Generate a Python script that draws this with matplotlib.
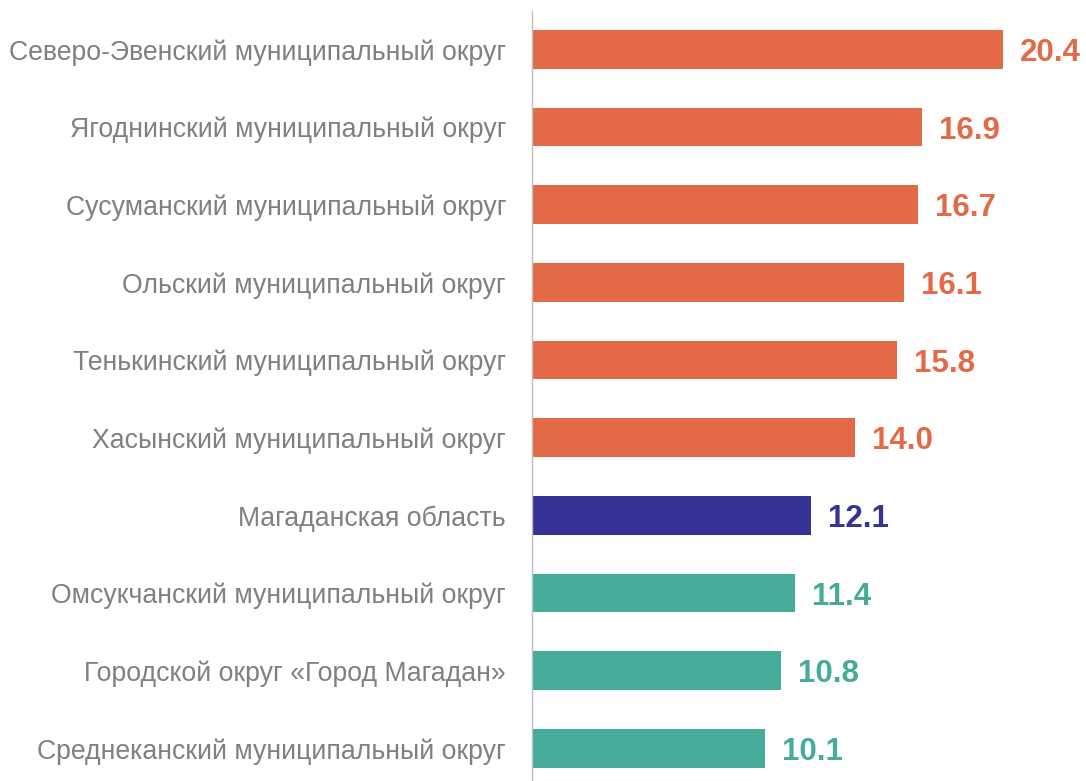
import matplotlib
matplotlib.use("Agg")
import matplotlib.pyplot as plt

categories = [
    "Северо-Эвенский муниципальный округ",
    "Ягоднинский муниципальный округ",
    "Сусуманский муниципальный округ",
    "Ольский муниципальный округ",
    "Тенькинский муниципальный округ",
    "Хасынский муниципальный округ",
    "Магаданская область",
    "Омсукчанский муниципальный округ",
    "Городской округ «Город Магадан»",
    "Среднеканский муниципальный округ",
]
values = [20.4, 16.9, 16.7, 16.1, 15.8, 14.0, 12.1, 11.4, 10.8, 10.1]
groups = ["high"] * 6 + ["region"] + ["low"] * 3

palette = {"high": "#E36947", "region": "#363396", "low": "#46AB98"}
colors = [palette[g] for g in groups]

plt.rcParams['font.family'] = ['Liberation Sans', 'DejaVu Sans']

W, H = 1086, 781
fig = plt.figure(figsize=(W / 100, H / 100), dpi=100)
ax_left = 532 / W
ax_top_px = 10.5
ax = fig.add_axes([ax_left, 0, 1 - ax_left, (H - ax_top_px) / H])

ypos = list(range(len(categories)))
ax.barh(ypos, values, height=0.5, color=colors, zorder=2)

spacing = 77.67
bottom_lim = -0.5 + (H - ax_top_px) / spacing
ax.set_ylim(bottom_lim, -0.5)
ax.set_xlim(0, (W - 532) / 23.09)

for y, v, c in zip(ypos, values, colors):
    ax.annotate(f"{v:.1f}", xy=(v, y), xytext=(17, 0), textcoords="offset pixels",
                va="center_baseline", ha="left", fontsize=22.5, fontweight="bold", color=c)

ax.set_yticks(ypos)
ax.set_yticklabels(categories, fontsize=19.2, color="#808080")
ax.tick_params(axis="y", length=0, pad=26 * 72 / 100)
ax.set_xticks([])
for s in ["top", "right", "bottom"]:
    ax.spines[s].set_visible(False)
ax.spines["left"].set_color("#BFBFBF")
ax.spines["left"].set_linewidth(1.0)

fig.savefig("out.png", dpi=100)
